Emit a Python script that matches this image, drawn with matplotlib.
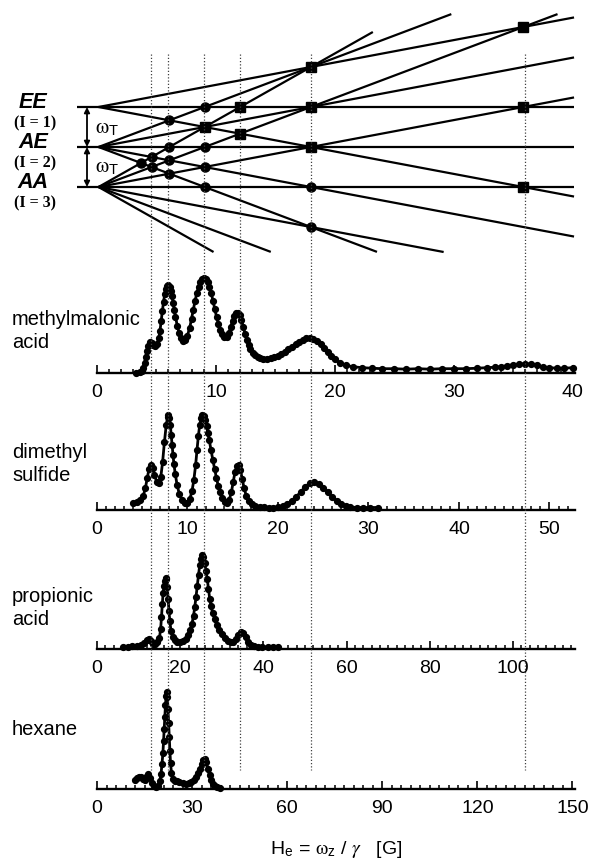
import matplotlib
matplotlib.use('Agg')
import matplotlib.pyplot as plt
from matplotlib.ticker import MultipleLocator
from matplotlib.transforms import blended_transform_factory
from matplotlib.lines import Line2D

plt.rcParams['font.family'] = ['Liberation Sans', 'DejaVu Sans']
plt.rcParams['mathtext.fontset'] = 'stix'

# ---------------- data ----------------
# level-crossing diagram
level_names = ['EE', 'AE', 'AA']
level_spin = [1, 2, 3]
level_energy = [2, 1, 0]          # in units of omega_T
crossing_unit = 18.0              # field at which adjacent |dm|=1 lines meet one omega_T apart
# Zeeman lines: (level index, m, field where the drawn line stops)
line_level = [0, 0, 0, 1, 1, 1, 1, 1, 2, 2, 2, 2, 2, 2, 2]
line_m     = [-1, 0, 1, -2, -1, 0, 1, 2, -3, -2, -1, 0, 1, 2, 3]
line_end   = [40.3, 40.3, 40.3, 23.6, 40.3, 40.3, 40.3, 29.9,
              9.75, 14.6, 29.25, 40.3, 40.3, 38.9, 23.25]

# dotted guide lines (methylmalonic acid field scale)
guide_fields = [4.5, 6, 9, 12, 18, 36]

# spectra: field value, signal height
mm_field = [3.3, 3.6, 3.8, 3.9, 4.0, 4.1, 4.2, 4.3, 4.45, 4.6, 4.75, 4.9, 5.05, 5.2, 5.3, 5.4,
            5.5, 5.6, 5.7, 5.8, 5.9, 6.0, 6.1, 6.2, 6.3, 6.4, 6.5, 6.6, 6.75, 6.9, 7.05, 7.2,
            7.4, 7.6, 7.8, 7.95, 8.1, 8.25, 8.4, 8.55, 8.7, 8.85, 9.0, 9.15, 9.3, 9.45, 9.6,
            9.75, 9.9, 10.05, 10.2, 10.35, 10.5, 10.7, 10.9, 11.1, 11.25, 11.4, 11.55, 11.7,
            11.85, 12.0, 12.15, 12.3, 12.45, 12.6, 12.75, 12.9, 13.1, 13.3, 13.5, 13.75, 14.0,
            14.3, 14.6, 14.9, 15.2, 15.5, 15.8, 16.1, 16.4, 16.7, 17.0, 17.3, 17.6, 17.9, 18.2,
            18.5, 18.8, 19.1, 19.4, 19.7, 20.0, 20.4, 20.9, 21.5, 22.3, 23.1, 24.0, 25.0, 26.0,
            27.0, 28.0, 29.0, 30.0, 31.0, 32.0, 32.8, 33.5, 34.0, 34.5, 35.0, 35.5, 36.0, 36.5,
            37.0, 37.5, 38.0, 38.7, 39.3, 40.0]
mm_signal = [0, 0.5, 2, 5, 10, 16, 22, 27, 31, 30, 28, 27, 29, 35, 42, 52,
             62, 71, 79, 84, 87, 88, 86, 82, 77, 70, 63, 56, 47, 40, 35, 32,
             33, 37, 45, 54, 63, 72, 80, 86, 91, 94, 95, 94, 91, 86, 80,
             72, 64, 56, 49, 43, 39, 36, 36, 40, 46, 52, 57, 60,
             60, 58, 53, 46, 39, 33, 28, 24, 20, 18, 16, 15, 14,
             14, 14.5, 15.5, 17, 19, 21, 23.5, 26, 28.5, 31, 33, 34.5, 35, 34,
             32, 29, 25, 21, 17, 13.5, 10, 7.5, 6, 5, 4.5, 4, 4, 3.5,
             4, 3.5, 4, 4, 4, 4.5, 5, 5.5, 6, 7, 8, 8.5, 9, 8.5,
             7.5, 6, 5, 4.5, 4.5, 5]

dms_field = [4.0, 4.4, 4.8, 5.1, 5.35, 5.55, 5.75, 5.95, 6.15, 6.35, 6.6, 6.85, 7.05, 7.25,
             7.45, 7.65, 7.8, 7.9, 8.0, 8.1, 8.2, 8.3, 8.4, 8.5, 8.65, 8.85, 9.1, 9.4, 9.7,
             10.0, 10.25, 10.5, 10.7, 10.9, 11.05, 11.2, 11.35, 11.5, 11.65, 11.8, 11.95, 12.1,
             12.25, 12.4, 12.6, 12.8, 13.0, 13.2, 13.4, 13.6, 13.85, 14.1, 14.35, 14.6, 14.85,
             15.05, 15.25, 15.45, 15.65, 15.85, 16.05, 16.25, 16.5, 16.8, 17.1, 17.5, 18.0,
             18.5, 19.0, 19.5, 20.0, 20.5, 21.0, 21.5, 22.0, 22.5, 23.0, 23.5, 24.0, 24.5,
             25.0, 25.5, 26.0, 26.5, 27.0, 27.5, 28.0, 28.7, 29.4, 30.2, 31.0]
dms_signal = [7, 8, 10, 14, 22, 32, 41, 45, 42, 35, 28, 27, 33, 48,
              68, 85, 93, 95, 92, 85, 75, 65, 55, 46, 36, 25, 16, 10, 7,
              7, 11, 19, 30, 45, 60, 74, 85, 92, 95, 94, 90, 84,
              77, 70, 60, 50, 41, 32, 24, 18, 12, 8, 7, 10, 18,
              28, 38, 44, 45, 40, 31, 22, 14, 9, 6, 4.5, 3.5,
              3, 2.5, 2.5, 3, 4, 6, 9, 13, 18, 23, 27, 28, 26,
              22, 18, 13, 9, 6, 4, 3, 2.5, 2.5, 2.5, 2.5]

prop_field = [6.3, 7.5, 8.5, 9.5, 10.5, 11.3, 12.0, 12.5, 13.0, 13.5, 14.0, 14.5, 15.0, 15.3,
              15.5, 15.7, 15.9, 16.1, 16.3, 16.5, 16.7, 16.9, 17.1, 17.3, 17.5, 17.8, 18.2,
              18.7, 19.3, 20.0, 20.7, 21.3, 21.9, 22.4, 22.8, 23.2, 23.5, 23.8, 24.1, 24.4,
              24.7, 25.0, 25.3, 25.6, 25.9, 26.2, 26.5, 26.8, 27.1, 27.4, 27.8, 28.3, 28.8,
              29.4, 30.0, 30.7, 31.4, 32.1, 32.8, 33.4, 34.0, 34.6, 35.2, 35.8, 36.4, 37.0,
              37.8, 38.7, 39.7, 41.0, 42.3, 43.5]
prop_signal = [2, 2.5, 3, 3, 4, 6, 9, 10, 8, 5, 5, 7, 11, 20,
               32, 45, 56, 63, 68, 71, 70, 62, 50, 38, 28, 18, 12,
               9, 7, 7, 8, 10, 14, 19, 25, 33, 42, 52, 63, 74,
               84, 90, 94, 92, 86, 78, 70, 60, 50, 43, 36, 30, 24,
               19, 15, 11, 8.5, 7, 7.5, 10, 14, 17, 16.5, 12, 7, 4.5,
               3, 2.5, 2, 2, 2, 2]

hex_field = [12.0, 12.6, 13.2, 13.8, 14.4, 15.0, 15.6, 16.2, 16.8, 17.4, 18.0, 18.7, 19.3,
             19.8, 20.2, 20.5, 20.8, 21.0, 21.2, 21.4, 21.6, 21.8, 22.0, 22.2, 22.4, 22.6,
             22.8, 23.0, 23.2, 23.5, 23.9, 24.5, 25.2, 26.0, 27.0, 28.0, 29.0, 29.8, 30.6,
             31.3, 31.9, 32.5, 33.0, 33.5, 34.0, 34.5, 35.0, 35.5, 36.0, 36.6, 37.3, 38.0, 38.8]
hex_signal = [9, 11, 12, 12, 10, 9, 12, 15, 11, 6, 3, 2, 3,
              8, 15, 25, 36, 48, 60, 72, 84, 93, 97, 92, 80, 66,
              52, 38, 26, 16, 10, 8, 8, 7, 6, 5.5, 6, 7, 9,
              12, 16, 20, 25, 29, 30, 27, 20, 14, 9, 5, 3, 2, 1.5]

spec_labels = [['methylmalonic', 'acid'], ['dimethyl', 'sulfide'], ['propionic', 'acid'], ['hexane']]
spec_xmax = [40.2, 52.82, 114.9, 150.8]
spec_major = [10, 10, 20, 30]
spec_minor = [1, 1, 2, 3]

# ---------------- layout helpers ----------------
W, HH = 589, 861
fig = plt.figure(figsize=(W / 100, HH / 100), dpi=100)


def fx(x):
    return x / W


def fy(y):
    return 1 - y / HH


def axes_px(x0, y0, x1, y1):
    return fig.add_axes([fx(x0), fy(y1), (x1 - x0) / W, (y1 - y0) / HH])


# ---------------- spectra ----------------
spec_axis_y = [372.7, 510, 649, 789]
spec_label_y = [[325, 348], [458, 481.5], [602, 625], [735]]
series = [(mm_field, mm_signal), (dms_field, dms_signal),
          (prop_field, prop_signal), (hex_field, hex_signal)]
spec_axes = []
for i, (fld, sig) in enumerate(series):
    ay = spec_axis_y[i]
    ax = axes_px(97, ay - 100, 575, ay)
    ax.set_xlim(0, spec_xmax[i])
    ax.set_ylim(0, 100)
    ax.patch.set_alpha(0)
    for s in ['top', 'left', 'right']:
        ax.spines[s].set_visible(False)
    ax.spines['bottom'].set_linewidth(1.7)
    ax.set_yticks([])
    ax.xaxis.set_major_locator(MultipleLocator(spec_major[i]))
    ax.xaxis.set_minor_locator(MultipleLocator(spec_minor[i]))
    ax.tick_params(axis='x', which='major', direction='in', length=5.5, width=1.2,
                   labelsize=14, pad=8)
    ax.tick_params(axis='x', which='minor', direction='in', length=3, width=1.1)
    ax.plot(fld, sig, color='black', lw=2.0, marker='o', ms=4.2, mec='black',
            mfc='black', clip_on=False, zorder=3)
    for txt, ly in zip(spec_labels[i], spec_label_y[i]):
        fig.text(fx(12), fy(ly), txt, fontsize=14.5, ha='left', va='baseline')
    spec_axes.append(ax)

# ---------------- level crossing diagram ----------------
dax = axes_px(97, 5, 575, 262)
x_org, x_scale = 98.5, 11.8
dax.set_xlim((97 - x_org) / x_scale, (575 - x_org) / x_scale)
dax.set_ylim(-1.875, 4.55)
dax.axis('off')

H_left = (77 - x_org) / x_scale
for lv, m, hend in zip(line_level, line_m, line_end):
    e0 = level_energy[lv]
    h0 = H_left if m == 0 else 0.0
    dax.plot([h0, hend], [e0 + m * h0 / crossing_unit, e0 + m * hend / crossing_unit],
             color='black', lw=1.6, clip_on=False, solid_capstyle='butt', zorder=2)

# crossings between lines of different levels
cross = {}
n = len(line_m)
for a in range(n):
    for b in range(a + 1, n):
        la, lb = line_level[a], line_level[b]
        if la == lb or line_m[a] == line_m[b]:
            continue
        h = (level_energy[lb] - level_energy[la]) * crossing_unit / (line_m[a] - line_m[b])
        if h <= 0 or h > min(line_end[a], line_end[b]):
            continue
        e = level_energy[la] + line_m[a] * h / crossing_unit
        key = (round(h, 4), round(e, 4))
        big = abs(level_energy[la] - level_energy[lb]) == 2
        cross[key] = cross.get(key, False) or big
for (h, e), big in cross.items():
    if big:
        dax.plot(h, e, marker='s', ms=7.2, color='black', zorder=4, clip_on=False)
    else:
        dax.plot(h, e, marker='o', ms=6.5, color='black', zorder=4, clip_on=False)

# omega_T arrows
H_arrow = (87 - x_org) / x_scale
for lo, hi in [(1, 2), (0, 1)]:
    dax.annotate('', xy=(H_arrow, hi), xytext=(H_arrow, lo), annotation_clip=False,
                 arrowprops=dict(arrowstyle='<|-|>', lw=1.3, color='black',
                                 mutation_scale=8, shrinkA=0, shrinkB=0))
for ty in [129, 168]:
    fig.text(fx(95), fy(ty), r'$\mathrm{\omega}_{\mathregular{T}}$', fontsize=15,
             ha='left', va='center')

# level labels
for name, spin, e0 in zip(level_names, level_spin, level_energy):
    ypx = 187 - 40 * e0
    fig.text(fx(33), fy(ypx - 4), name, fontsize=15.5, fontweight='bold', fontstyle='italic',
             ha='center', va='center')
    fig.text(fx(35), fy(ypx + 16), f'(I = {spin})', fontsize=11.5, fontweight='bold',
             family='Liberation Serif', ha='center', va='center')

# dotted guide lines through all panels
trans = blended_transform_factory(spec_axes[0].transData, fig.transFigure)
for g in guide_fields:
    fig.add_artist(Line2D([g, g], [fy(54), fy(770)], transform=trans, color='0.25',
                          lw=0.9, linestyle=(0, (1, 1.6)), zorder=1))

# x label
fig.text(fx(336), fy(849),
         r'H$_{\mathregular{e}}$ = $\mathrm{\omega}_{\mathregular{z}}$ / $\gamma$   [G]',
         fontsize=14, ha='center', va='center')

fig.savefig('out.png', dpi=100)
